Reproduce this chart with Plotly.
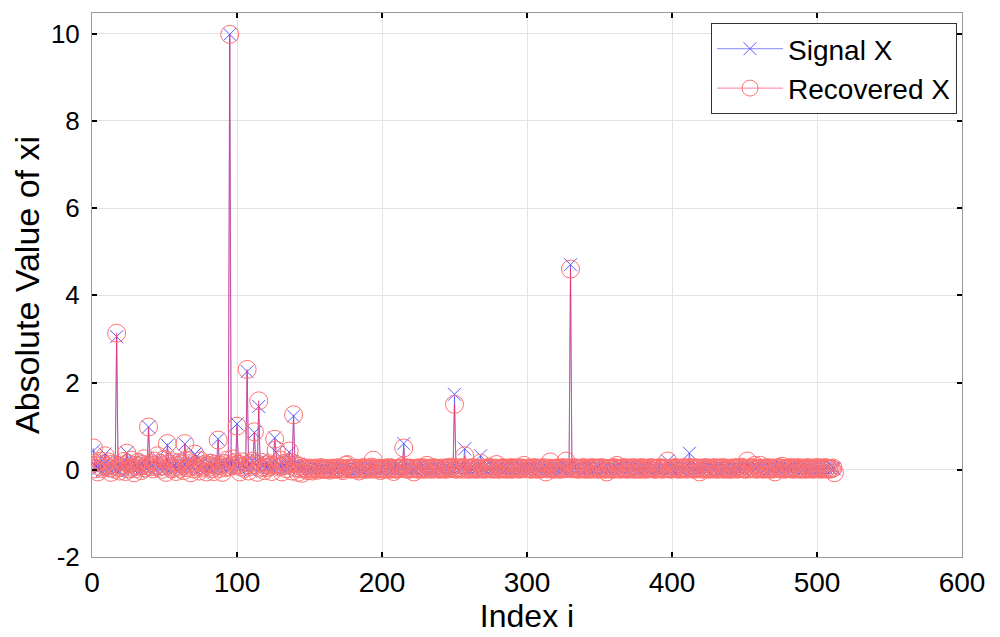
import plotly.graph_objects as go

# ---- data (index i = 1..512) ----
signal_noise = [
 .05,.12,.08,.02,.15,.06,-.03,.1,.04,.18,.07,.01,.09,.22,.03,.05,.11,-.04,.06,.14,
 .02,.08,.17,.05,-.02,.1,.06,.2,.03,.12,.07,-.05,.09,.15,.01,.06,.24,.04,.1,.03,
 .13,.07,.02,.19,.28,.05,.11,-.03,.08,.16,.04,.09,.21,.02,.12,.06,.25,.03,.1,-.02,
 .14,.07,.18,.05,.09,.02,.23,.11,.04,.15,.06,.3,.08,.01,.12,.19,.05,-.04,.1,.07,
 .16,.03,.09,.13,.05,.22,.08,.04,.11,.18,.02,.07,.14,.06,.2,.09,.03,.12,.05,.17,
 .08,.02,.15,.1,.04,.19,.06,.13,-.03,.09,.2,.05,.11,.07,.16,.03,.24,.08,.12,.05,
 .18,.06,.1,.03,.14,.08,.21,.04,.12,.06,.17,.02,.09,.15,.05,.11,.07,.19,.03,.1,
 .06,.13,.04,.08,.02,.05,.03,.06,.01,.04,.02,.04,.01,.03,.05,.02,.03,.01,.04,.02,
 .03,.01,.04,.02,.05,.03,.00,.04,.02,.06,.01,.03,.05,.02,.04,.01,.03,.06,.02,.04,
 .01,.05,.03,.02,.04,.00,.03,.05,.01,.04,.02,.06,.03,.01,.04,.02,.05,.03,.01,.04,
 .06,.02,.03,.05,.01,.04,.02,.03,.05,.01,.12,.03,.02,.04,.06,.01,.03,.02,.05,.04,
 .02,.03,.01,.05,.04,.02,.06,.03,.01,.04,.02,.05,.03,.04,.01,.02,.05,.03,.04,.02,
 .04,.01,.03,.06,.02,.05,.03,.01,.04,.02,.03,.05,.01,.04,.02,.06,.03,.02,.04,.01,
 .03,.05,.02,.04,.01,.03,.06,.02,.04,.03,.01,.05,.02,.03,.04,.01,.06,.02,.03,.05,
 .01,.04,.02,.05,.03,.02,.04,.01,.03,.06,.02,.04,.03,.01,.05,.02,.03,.04,.02,.05,
 .03,.01,.04,.02,.06,.03,.02,.05,.01,.04,.03,.02,.05,.04,.01,.03,.06,.02,.04,.03,
 .02,.05,.03,.01,.04,.02,.06,.03,.05,.02,.01,.04,.03,.05,.02,.04,.01,.03,.06,.02,
 .04,.02,.05,.03,.01,.04,.02,.03,.06,.01,.04,.02,.05,.03,.02,.04,.01,.05,.03,.02,
 .05,.03,.01,.04,.02,.06,.03,.02,.04,.01,.03,.05,.02,.04,.03,.01,.05,.02,.04,.03,
 .02,.04,.03,.01,.05,.02,.04,.06,.03,.01,.04,.02,.03,.05,.01,.04,.02,.06,.03,.02,
 .04,.01,.05,.03,.02,.04,.01,.03,.05,.02,.04,.03,.01,.06,.02,.04,.03,.05,.02,.01,
 .03,.05,.02,.04,.01,.03,.06,.02,.04,.03,.02,.05,.01,.04,.03,.02,.06,.03,.01,.04,
 .02,.04,.01,.05,.03,.02,.04,.03,.01,.05,.02,.04,.06,.03,.02,.04,.01,.03,.05,.02,
 .05,.02,.04,.01,.03,.06,.02,.04,.03,.01,.05,.03,.02,.04,.01,.06,.03,.02,.04,.05,
 .03,.01,.04,.02,.05,.03,.01,.04,.06,.02,.03,.05,.01,.04,.02,.03,.05,.02,.04,.01,
 .04,.02,.05,.03,.01,.04,.02,.06,.03,.01,.04,.02,
]

recovered_noise = [
 .1,.02,.16,-.05,.08,.2,.03,.12,-.02,.07,.18,.04,-.06,.13,.09,.01,.15,.05,-.03,.11,
 .06,.19,-.04,.08,.14,.02,.22,.05,-.07,.1,.03,.17,.08,-.02,.12,.25,.04,.09,-.05,.14,
 .07,.02,.2,.11,-.03,.06,.15,.01,.09,.24,-.06,.05,.13,.08,.02,.18,.04,-.04,.1,.16,
 .03,.12,-.02,.08,.21,.05,.14,-.07,.09,.02,.17,.06,.11,-.03,.2,.04,.08,.13,-.05,.1,
 .06,.15,.02,-.04,.12,.08,.19,.03,.1,-.06,.14,.05,.22,.07,-.02,.11,.04,.16,.09,.01,
 .13,-.05,.07,.18,.03,.1,.06,-.03,.15,.08,.2,.02,.12,-.06,.09,.04,.17,.06,-.02,.11,
 .05,.14,.08,-.04,.1,.19,.03,.12,.06,.22,-.05,.09,.15,.02,.11,.07,.18,-.03,.06,.13,
 .04,-.06,.08,.02,-.08,.05,.01,.03,-.02,.04,.02,-.03,.01,.04,.02,-.01,.03,.05,.01,.02,
 .02,.01,.03,-.01,.02,.04,.01,.03,.02,.05,.01,.02,-.02,.03,.1,.12,.02,.04,.01,.03,
 .02,.04,.01,-.03,.03,.02,.05,.01,.03,.02,.04,.01,.06,.22,.03,.01,.02,.04,-.02,.03,
 .01,.03,.02,.05,.01,.04,.02,-.04,.03,.01,.02,.04,.03,.08,.02,.02,.03,.01,.04,.02,
 .03,-.05,.02,.04,.01,.03,.05,.02,.01,.04,.1,.02,.03,.01,.05,.02,.04,.03,.01,.02,
 .04,.02,.03,.01,.05,.02,.04,.06,.03,.02,.01,.04,.02,.03,.05,.01,.03,.04,.02,.01,
 .03,.05,.02,.04,.01,.03,.02,.05,.04,.01,.03,.02,.04,.06,.02,.03,.01,.04,.12,.02,
 .01,.03,.05,.02,.04,.01,.03,.02,.05,.01,.04,.03,.02,.05,.01,.03,.04,.1,.02,.03,
 .04,.02,.01,.03,.05,.02,.04,.01,.03,.02,.05,.03,-.05,.02,.04,.18,.03,.01,.02,.04,
 .02,.04,.01,.03,.05,.02,.2,.04,.03,.01,.02,.05,.03,.04,.01,.03,.02,.04,.05,.01,
 .03,.02,.04,.01,.05,.03,.02,.04,.01,.03,.05,.02,.04,.01,-.05,.03,.02,.04,.01,.05,
 .02,.1,.03,.01,.04,.02,.05,.03,.01,.04,.02,.03,.05,.01,.02,.04,.03,.01,.05,.02,
 .04,.01,.03,.02,.05,.03,.04,.01,.02,.04,.03,.05,.01,.03,.02,.04,.2,.03,.01,.02,
 .03,.05,.02,.04,.01,.03,.02,.05,.04,.01,.03,.02,.04,.03,.01,.05,.02,.03,-.05,.04,
 .01,.03,.05,.02,.04,.01,.03,.02,.05,.03,.01,.04,.02,.03,.05,.01,.04,.02,.03,.01,
 .04,.02,.03,.05,.01,.03,.04,.06,.02,.03,.01,.2,.04,.02,.05,.03,.1,.01,.04,.02,
 .1,.03,.01,.04,.02,.05,.03,.01,.04,.02,-.05,.03,.05,.02,.04,.08,.01,.03,.02,.04,
 .03,.05,.01,.04,.02,.03,.05,.01,.04,.02,.03,.01,.05,.02,.04,.03,.01,.04,.02,.05,
 .02,.04,.01,.03,.05,.02,.04,.01,.03,.02,.04,-.07,
]

spike_index     = [1, 9, 17, 24, 39, 45, 52, 64, 71, 87, 95, 97, 100, 107, 112, 115, 126, 127, 136, 139, 215, 250, 257, 268, 330, 397, 412]
signal_spike    = [.43, .36, 3.05, .39, .98, .28, .56, .59, .36, .70, 9.98, .20, 1.05, 2.25, .85, 1.45, .73, .40, .40, 1.23, .60, 1.73, .48, .32, 4.70, .20, .38]
recovered_spike = [.50, .32, 3.13, .38, .98, .32, .60, .60, .36, .68, 9.98, .25, 1.00, 2.30, .87, 1.58, .70, .45, .43, 1.26, .50, 1.50, .32, .15, 4.60, .20, .05]

x_ticks = [0, 100, 200, 300, 400, 500, 600]
y_ticks = [-2, 0, 2, 4, 6, 8, 10]

# ---- assemble series ----
index = list(range(1, len(signal_noise) + 1))
signal = list(signal_noise)
recovered = list(recovered_noise)
for i, s, r in zip(spike_index, signal_spike, recovered_spike):
    signal[i - 1] = s
    recovered[i - 1] = r

fig = go.Figure()
fig.add_trace(go.Scatter(
    x=index, y=signal, mode="lines+markers", name="Signal X",
    line=dict(color="rgba(70,70,255,0.65)", width=1),
    marker=dict(symbol="x-thin", size=13, line=dict(color="#5a5aff", width=1)),
))
fig.add_trace(go.Scatter(
    x=index, y=recovered, mode="lines+markers", name="Recovered X",
    line=dict(color="rgba(255,40,90,0.6)", width=1),
    marker=dict(symbol="circle-open", size=18, color="#ff7070", line=dict(width=1)),
))

FONT = "Liberation Sans, Arial, sans-serif"
axis_common = dict(
    showgrid=True, gridcolor="#e3e3e3", gridwidth=1,
    showline=True, linecolor="#9a9a9a", linewidth=1, mirror="ticks",
    ticks="inside", ticklen=5, tickcolor="#000000", tickwidth=2,
    zeroline=False, automargin=False,
)
fig.update_xaxes(
    range=[0, 600], tickvals=x_ticks, ticktext=[str(v) for v in x_ticks],
    tickfont=dict(family=FONT, size=28, color="black"),
    title=dict(text="Index i", font=dict(family=FONT, size=32, color="black"), standoff=0),
    **axis_common,
)
fig.update_yaxes(
    range=[-2, 10.47], tickvals=y_ticks, ticktext=[str(v) for v in y_ticks],
    tickfont=dict(family=FONT, size=26, color="black"),
    ticklabelstandoff=6,
    title=dict(text="Absolute Value of xi", font=dict(family=FONT, size=34, color="black"), standoff=8),
    **axis_common,
)
# page body has an 8px default margin, so the figure is sized 992x629
fig.update_layout(
    width=992, height=629,
    margin=dict(l=84, r=38, t=5, b=80),
    paper_bgcolor="white", plot_bgcolor="white",
    showlegend=True,
    legend=dict(
        x=0.9943, xanchor="right", y=0.9816, yanchor="top",
        bgcolor="white", bordercolor="#333333", borderwidth=1,
        font=dict(family=FONT, size=28, color="black"),
        tracegroupgap=0, itemwidth=66,
    ),
)
fig.write_html("out.html")
